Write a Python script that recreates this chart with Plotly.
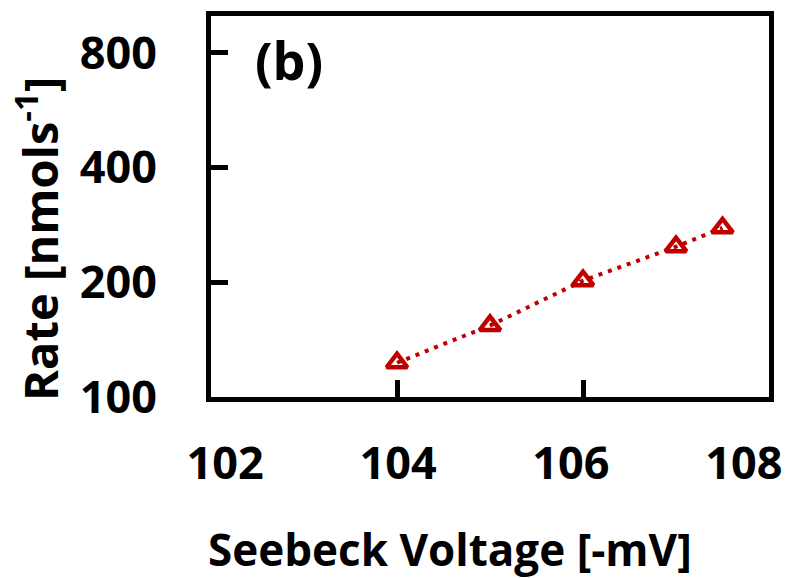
import plotly.graph_objects as go

voltage = [104, 105, 106, 107, 107.5]
rate = [123, 154, 202, 248, 278]
y_ticks = [100, 200, 400, 800]
x_ticks = [102, 104, 106, 108]

FONT = "Open Sans"
RED = "#C00000"

fig = go.Figure()
fig.add_trace(go.Scatter(
    x=voltage, y=rate, mode="lines+markers",
    line=dict(color=RED, width=4, dash="4px,6px"),
    marker=dict(symbol="triangle-up-open", size=18, color=RED,
                line=dict(color=RED, width=4.5)),
    showlegend=False,
))
# empty trace so the label-only axis is drawn
fig.add_trace(go.Scatter(x=[], y=[], xaxis="x2", yaxis="y",
                         showlegend=False, hoverinfo="skip"))

fig.update_layout(
    width=803, height=570,
    margin=dict(l=203, r=42, t=8, b=181, autoexpand=False),
    paper_bgcolor="white", plot_bgcolor="white",
    font=dict(family=FONT, color="black", size=40),
    xaxis=dict(
        range=[102, 108], tickvals=x_ticks, showticklabels=False,
        showline=True, mirror=True, linecolor="black", linewidth=5,
        ticks="inside", ticklen=17, tickwidth=5, tickcolor="black",
        showgrid=False, zeroline=False, automargin=False,
    ),
    # label-only axis reproducing the reference's tick-label placement
    xaxis2=dict(
        overlaying="x", anchor="y", side="bottom",
        range=[101.837, 108.291], autorange=False, tickvals=x_ticks,
        ticktext=[str(v) for v in x_ticks],
        showline=False, ticks="", showgrid=False, zeroline=False,
        automargin=False,
        tickfont=dict(family=FONT, size=45, weight="bold"),
        ticklabelstandoff=36,
    ),
    yaxis=dict(
        type="log", range=[2, 3], tickvals=y_ticks, ticktext=[str(v) for v in y_ticks],
        showline=True, mirror=True, linecolor="black", linewidth=5,
        ticks="inside", ticklen=17, tickwidth=5, tickcolor="black",
        showgrid=False, zeroline=False, automargin=False,
        tickfont=dict(family=FONT, size=45, weight="bold"),
        ticklabelstandoff=40,
    ),
)

fig.add_annotation(
    x=0.428, y=-0.40, xref="paper", yref="paper", xanchor="center", yanchor="middle",
    text="<b>Seebeck Voltage [-mV]</b>", showarrow=False,
    font=dict(family=FONT, size=44, color="black"),
)
fig.add_annotation(
    x=-0.31, y=0.415, xref="paper", yref="paper", xanchor="center", yanchor="middle",
    text="<b>Rate [nmols<sup>-1</sup>]</b>", showarrow=False, textangle=-90,
    font=dict(family=FONT, size=47, color="black"),
)
fig.add_annotation(
    x=0.075, y=0.984, xref="paper", yref="paper", xanchor="left", yanchor="top",
    text="<b>(b)</b>", showarrow=False,
    font=dict(family=FONT, size=52, color="black"),
)

fig.write_html("out.html")
